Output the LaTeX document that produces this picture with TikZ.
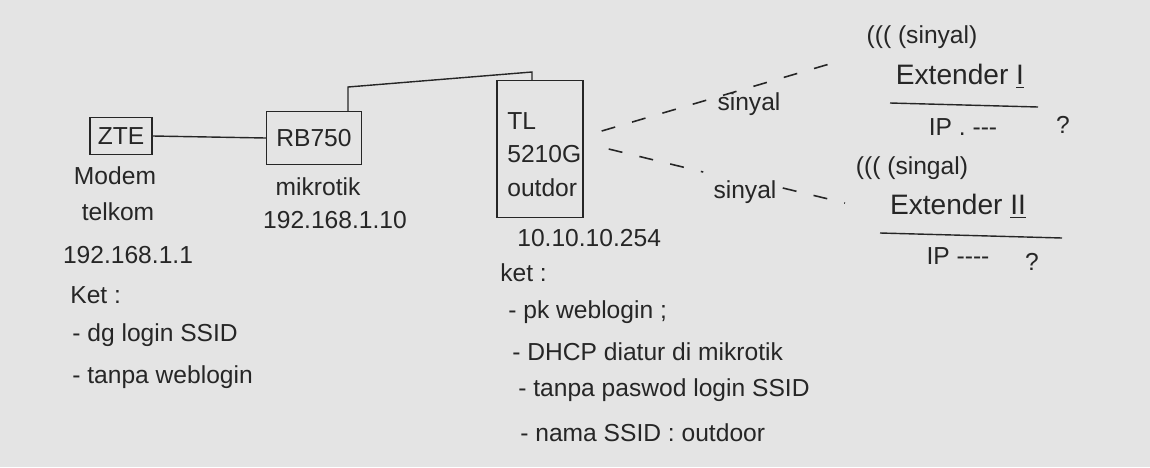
\documentclass[tikz,border=0pt]{standalone}
\usepackage{fontspec}
\setmainfont{Liberation Sans}
\definecolor{paper}{RGB}{228,228,228}
\definecolor{inkc}{RGB}{38,38,38}
\begin{document}
\begin{tikzpicture}[x=0.02cm,y=-0.02cm,
  lbl/.style={text=inkc, font=\fontsize{14}{17}\selectfont, inner sep=0pt},
  big/.style={text=inkc, font=\fontsize{16}{19}\selectfont, inner sep=0pt},
  devbox/.style={draw=inkc, line width=0.8pt, inner sep=0pt, text=inkc, font=\fontsize{14}{17}\selectfont},
  wire/.style={draw=inkc, line width=0.8pt},
  radio/.style={draw=inkc, line width=0.9pt, dash pattern=on 8pt off 10pt}]
\fill[paper] (0,0) rectangle (1150,467);
\useasboundingbox (0,0) rectangle (1150,467);

% devices
\node[devbox, minimum width=1.24cm, minimum height=0.74cm] (zte) at (121,136) {ZTE};
\node[devbox, minimum width=1.9cm, minimum height=1.06cm] (rb) at (314,138) {RB750};
\node[devbox, minimum width=1.72cm, minimum height=2.74cm] (tl) at (540,149) {};
\node[lbl, align=left, anchor=north west, font=\fontsize{14}{19}\selectfont] (tltext) at (507,112) {TL\\5210G\\outdor};

% wires
\draw[wire] (zte.east) -- (rb.west);
\coordinate (up1) at (348,87);
\coordinate (up2) at (532,72);
\draw[wire] (rb.north -| up1) -- (up1) -- (up2) -- (up2 |- tl.north);

% left labels
\node[lbl] (modem) at (115,176) {Modem};
\node[lbl] (telkom) at (118,212) {telkom};
\node[lbl] (ipzte) at (128,255) {192.168.1.1};
\node[lbl, anchor=west] (ket1) at (70,295) {Ket :};
\node[lbl, anchor=west] (n1) at (72,335) {- dg login SSID};
\node[lbl, anchor=west] (n2) at (72,377) {- tanpa weblogin};

% mikrotik labels
\node[lbl] (mik) at (318,187) {mikrotik};
\node[lbl] (iprb) at (335,220) {192.168.1.10};

% TL labels
\node[lbl, anchor=west] (iptl) at (517,238) {10.10.10.254};
\node[lbl, anchor=west] (ket2) at (500,273) {ket :};
\node[lbl, anchor=west] (m1) at (508,312) {- pk weblogin ;};
\node[lbl, anchor=west] (m2) at (512,352) {- DHCP diatur di mikrotik};
\node[lbl, anchor=west] (m3) at (518,390) {- tanpa paswod login SSID};
\node[lbl, anchor=west] (m4) at (520,433) {- nama SSID : outdoor};

% extender I
\node[lbl] (sig1) at (922,37) {((( (sinyal)};
\node[big] (ext1) at (960,76) {Extender \underline{I}};
\coordinate (e1l) at (890,103);
\coordinate (e1r) at (1038,107);
\draw[wire] (e1l) -- (e1r);
\node[lbl] (ip1) at (963,127) {IP . -{}-{}-};
\node[lbl] (q1) at (1063,125) {?};

% extender II
\node[lbl] (sig2) at (912,168) {((( (singal)};
\node[big] (ext2) at (958,206) {Extender \underline{II}};
\coordinate (e2l) at (880,233);
\coordinate (e2r) at (1062,238);
\draw[wire] (e2l) -- (e2r);
\node[lbl] (ip2) at (958,256) {IP -{}-{}-{}-};
\node[lbl] (q2) at (1032,262) {?};

% radio links
\node[lbl] (lab1) at (749,104) {sinyal};
\coordinate (s1b) at (843,60);
\draw[radio] ([shift={(18,-18)}]tl.east) -- (s1b);

\node[lbl] (lab2) at (745,192) {sinyal};
\coordinate (s2b) at (845,203);
\draw[radio] ([shift={(25,0)}]tl.east) -- ([shift={(-10,-20)}]lab2.west);
\draw[radio] ([shift={(6,-4)}]lab2.east) -- (s2b);
\end{tikzpicture}
\end{document}
